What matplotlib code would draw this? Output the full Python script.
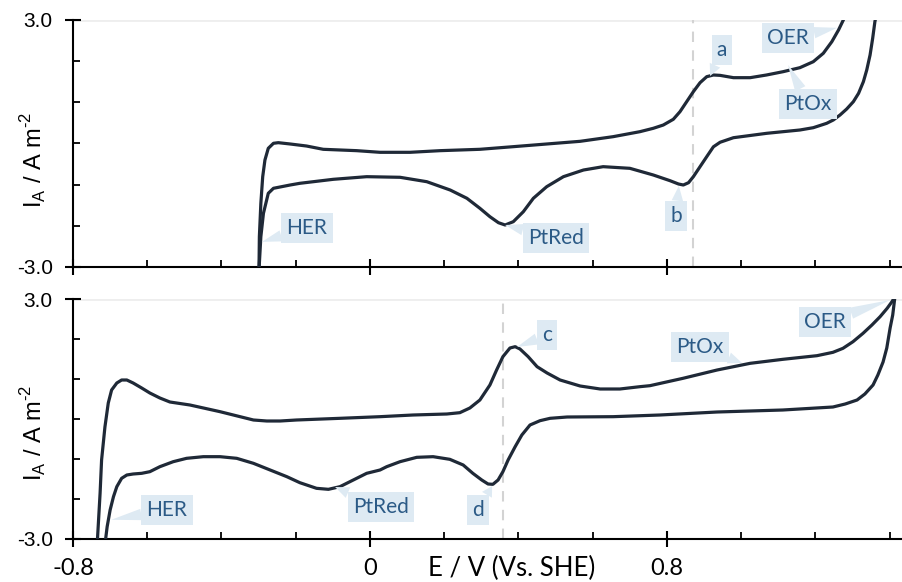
import numpy as np
import matplotlib.pyplot as plt

plt.rcParams['mathtext.fontset'] = 'custom'
plt.rcParams['mathtext.rm'] = 'Liberation Sans'

# Pt electrode CVs: measured (top) and simulated (bottom)
# forward (anodic) and reverse (cathodic) sweeps, E in V vs SHE, I in A m^-2
top_fwd_E = [-0.299, -0.298, -0.294, -0.289, -0.283, -0.274, -0.260, -0.247, -0.215, -0.171,
             -0.126, -0.036, 0.027, 0.108, 0.189, 0.296, 0.386, 0.476, 0.566, 0.655,
             0.727, 0.763, 0.790, 0.817, 0.835, 0.853, 0.871, 0.889, 0.907, 0.925,
             0.943, 0.979, 1.024, 1.068, 1.113, 1.158, 1.194, 1.221, 1.244, 1.262,
             1.275, 1.293]
top_fwd_I = [-3.07, -2.264, -1.452, -0.806, -0.401, -0.117, 0.005, 0.020, -0.012, -0.061,
             -0.141, -0.174, -0.214, -0.214, -0.174, -0.141, -0.077, -0.012, 0.053, 0.166,
             0.287, 0.369, 0.449, 0.588, 0.773, 1.016, 1.259, 1.477, 1.623, 1.664,
             1.655, 1.599, 1.599, 1.664, 1.745, 1.842, 1.987, 2.191, 2.473, 2.757,
             3.0, 3.49]

top_rev_E = [1.368, 1.360, 1.354, 1.347, 1.338, 1.329, 1.316, 1.302, 1.284, 1.266,
             1.248, 1.230, 1.194, 1.158, 1.069, 0.979, 0.943, 0.925, 0.907, 0.889,
             0.871, 0.858, 0.844, 0.831, 0.808, 0.763, 0.700, 0.628, 0.575, 0.521,
             0.476, 0.440, 0.413, 0.386, 0.364, 0.346, 0.323, 0.296, 0.261, 0.216,
             0.153, 0.081, -0.009, -0.099, -0.189, -0.215, -0.260, -0.274, -0.287, -0.294,
             -0.299]
top_rev_I = [3.30, 2.960, 2.555, 2.150, 1.785, 1.502, 1.219, 1.016, 0.838, 0.692,
             0.571, 0.490, 0.384, 0.328, 0.248, 0.141, 0.03, -0.08, -0.320, -0.563,
             -0.806, -0.952, -1.008, -0.984, -0.903, -0.765, -0.603, -0.563, -0.644, -0.806,
             -1.049, -1.331, -1.657, -1.899, -1.980, -1.924, -1.778, -1.574, -1.331, -1.130,
             -0.928, -0.821, -0.806, -0.870, -0.967, -1.008, -1.088, -1.210, -1.695, -2.264,
             -3.07]

sim_fwd_E = [-0.735, -0.727, -0.723, -0.714, -0.705, -0.696, -0.682, -0.669, -0.655, -0.638,
             -0.615, -0.593, -0.566, -0.539, -0.485, -0.404, -0.350, -0.314, -0.278, -0.242,
             -0.198, -0.081, 0.027, 0.116, 0.207, 0.242, 0.269, 0.296, 0.323, 0.341,
             0.358, 0.377, 0.391, 0.404, 0.426, 0.450, 0.477, 0.512, 0.566, 0.620,
             0.673, 0.727, 0.754, 0.843, 0.935, 1.024, 1.112, 1.204, 1.247, 1.274,
             1.301, 1.328, 1.352, 1.374, 1.393, 1.406, 1.414]
sim_fwd_I = [-3.15, -1.85, -1.025, -0.20, 0.40, 0.725, 0.90, 0.975, 0.975, 0.90,
             0.775, 0.65, 0.525, 0.425, 0.35, 0.183, 0.058, -0.025, -0.05, -0.05,
             -0.025, 0.017, 0.058, 0.10, 0.125, 0.158, 0.275, 0.475, 0.85, 1.225,
             1.558, 1.775, 1.808, 1.75, 1.558, 1.308, 1.15, 0.975, 0.825, 0.75,
             0.75, 0.808, 0.833, 1.017, 1.225, 1.392, 1.492, 1.583, 1.667, 1.767,
             1.933, 2.142, 2.35, 2.558, 2.767, 2.933, 3.058]

sim_rev_E = [1.414, 1.408, 1.401, 1.392, 1.382, 1.368, 1.355, 1.333, 1.312, 1.280,
             1.247, 1.112, 0.935, 0.781, 0.655, 0.531, 0.485, 0.458, 0.431, 0.409,
             0.391, 0.372, 0.358, 0.345, 0.331, 0.318, 0.301, 0.277, 0.251, 0.215,
             0.170, 0.126, 0.081, 0.045, 0.027, -0.009, -0.045, -0.081, -0.112, -0.144,
             -0.189, -0.224, -0.269, -0.314, -0.359, -0.404, -0.449, -0.494, -0.530, -0.566,
             -0.593, -0.615, -0.638, -0.655, -0.669, -0.682, -0.691, -0.700, -0.708, -0.713,
             -0.715]
sim_rev_I = [3.058, 2.60, 2.275, 1.775, 1.425, 1.10, 0.85, 0.625, 0.475, 0.375,
             0.30, 0.225, 0.175, 0.10, 0.058, 0.05, 0.017, -0.042, -0.15, -0.40,
             -0.692, -1.025, -1.317, -1.525, -1.633, -1.625, -1.525, -1.358, -1.15, -1.008,
             -0.942, -0.958, -1.067, -1.192, -1.275, -1.358, -1.525, -1.692, -1.758, -1.733,
             -1.592, -1.442, -1.275, -1.108, -0.983, -0.942, -0.942, -0.983, -1.067, -1.192,
             -1.317, -1.358, -1.375, -1.40, -1.483, -1.692, -1.942, -2.275, -2.692, -3.067,
             -3.2]

# callouts: (text, point E, point I, box E, box I)
top_notes = [("HER", -0.291, -2.39, -0.170, -2.05),
             ("PtRed", 0.364, -1.98, 0.501, -2.30),
             ("b", 0.832, -1.03, 0.824, -1.76),
             ("a", 0.916, 1.64, 0.948, 2.27),
             ("OER", 1.258, 2.81, 1.126, 2.56),
             ("PtOx", 1.126, 1.907, 1.180, 0.96)]
sim_notes = [("HER", -0.697, -2.52, -0.547, -2.275),
             ("PtRed", -0.094, -1.70, 0.030, -2.20),
             ("d", 0.329, -1.675, 0.291, -2.275),
             ("c", 0.396, 1.80, 0.477, 2.10),
             ("PtOx", 1.002, 1.40, 0.889, 1.80),
             ("OER", 1.401, 2.975, 1.226, 2.425)]

top_vline = 0.87
sim_vline = 0.358

line_col = '#1f2937'
note_fc = '#deeaf3'
note_tc = '#2b5a86'

fig = plt.figure(figsize=(9.02, 5.82), dpi=100)
ax1 = fig.add_axes([73 / 902, 1 - 267 / 582, 829 / 902, 247 / 582])
ax2 = fig.add_axes([73 / 902, 1 - 539 / 582, 829 / 902, 240 / 582])


def setup(ax, show_x):
    ax.set_xlim(-0.8, 1.433)
    ax.set_ylim(-3.0, 3.0)
    for s in ['top', 'right']:
        ax.spines[s].set_visible(False)
    for s in ['left', 'bottom']:
        ax.spines[s].set_linewidth(1.5)
        ax.spines[s].set_color('black')
    ax.axhline(3.0, color='#eeeeee', lw=2, zorder=0)
    ax.set_yticks([-3, 3])
    ax.set_yticklabels(['-3.0', '3.0'], family='Liberation Sans', fontsize=15)
    ax.set_yticks(np.arange(-2, 3), minor=True)
    ax.set_xticks([-0.8, 0, 0.8])
    ax.set_xticks([-0.6, -0.4, -0.2, 0.2, 0.4, 0.6, 1.0, 1.2, 1.4], minor=True)
    if show_x:
        ax.set_xticklabels(['-0.8', '0', '0.8'], family='Lato', fontsize=17)
    else:
        ax.set_xticklabels([])
    ax.tick_params(which='major', direction='inout', length=11, width=1.5, color='black')
    ax.tick_params(which='minor', direction='in', length=5, width=1.3, color='black')
    ax.tick_params(axis='y', which='major', pad=9)
    ax.tick_params(axis='x', which='major', pad=8)


def notes(ax, items):
    for txt, px, py, bx, by in items:
        ax.annotate(txt, xy=(px, py), xytext=(bx, by), ha='center', va='center',
                    family='Lato', fontsize=15, color=note_tc, zorder=5,
                    bbox=dict(boxstyle='square,pad=0.25', fc=note_fc, ec='none'),
                    arrowprops=dict(arrowstyle='wedge,tail_width=0.55', fc=note_fc,
                                    ec='none', shrinkA=0, shrinkB=0))


setup(ax1, False)
setup(ax2, True)

ax1.axvline(top_vline, color='#d3d3d3', lw=1.5, ls=(0, (5, 4)), zorder=1)
ax2.axvline(sim_vline, color='#d3d3d3', lw=1.5, ls=(0, (5, 4)), zorder=1)

for ax, E, I in [(ax1, top_fwd_E, top_fwd_I), (ax1, top_rev_E, top_rev_I),
                 (ax2, sim_fwd_E, sim_fwd_I), (ax2, sim_rev_E, sim_rev_I)]:
    ax.plot(E, I, color=line_col, lw=2.3, solid_joinstyle='round',
            solid_capstyle='round', zorder=3)

notes(ax1, top_notes)
notes(ax2, sim_notes)

ylab = r'I$_{\mathrm{A}}$ / A m$^{\text{-2}}$'
fig.text(34 / 902, 1 - 160 / 582, ylab, rotation=90, ha='center', va='center',
         family='Liberation Sans', fontsize=17)
fig.text(34 / 902, 1 - 433 / 582, ylab, rotation=90, ha='center', va='center',
         family='Liberation Sans', fontsize=17)
fig.text(512 / 902, 1 - 568 / 582, 'E / V (Vs. SHE)', ha='center', va='center',
         family='Lato', fontsize=18.5)

fig.savefig('out.png', dpi=100)
